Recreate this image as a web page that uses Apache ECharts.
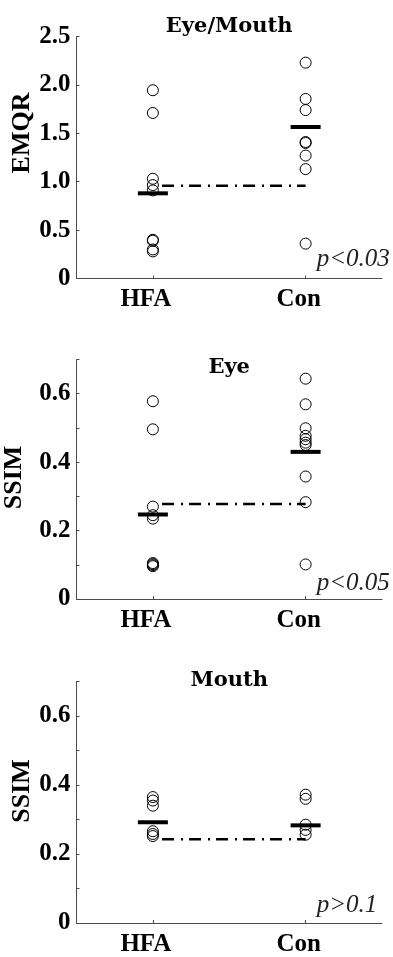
<!DOCTYPE html>
<html>
<head>
<meta charset="utf-8">
<script src="https://cdn.jsdelivr.net/npm/echarts@6/dist/echarts.min.js"></script>
<style>
html,body{margin:0;padding:0;background:#fff;}
#chart{width:393px;height:957px;}
</style>
</head>
<body>
<div id="chart"></div>
<script>
// ---- Data ----
const groups = ['HFA', 'Con'];
const panelTitles = ['Eye/Mouth', 'Eye', 'Mouth'];
const yNames = ['EMQR', 'SSIM', 'SSIM'];
const pTexts = ['p<0.03', 'p<0.05', 'p>0.1'];
const yMax = [2.5, 0.7, 0.7];
const yTickStep = [0.5, 0.1, 0.1];
const yLabelStep = [0.5, 0.2, 0.2];

const emqrHFA = [1.945, 1.71, 1.03, 0.965, 0.91, 0.40, 0.39, 0.30, 0.28];
const emqrCon = [2.23, 1.855, 1.74, 1.41, 1.40, 1.27, 1.13, 0.36];
const emqrMeans = [0.88, 1.565];
const emqrRef = 0.958;

const eyeHFA = [0.578, 0.496, 0.27, 0.245, 0.235, 0.105, 0.102, 0.099, 0.096];
const eyeCon = [0.644, 0.569, 0.499, 0.477, 0.467, 0.457, 0.45, 0.358, 0.283, 0.101];
const eyeMeans = [0.247, 0.430];
const eyeRef = 0.278;

const mouthHFA = [0.365, 0.355, 0.34, 0.266, 0.258, 0.252];
const mouthCon = [0.372, 0.36, 0.285, 0.27, 0.256];
const mouthMeans = [0.292, 0.283];
const mouthRef = 0.243;

const refLineX = [1.06, 2.0];

// ---- Build ----
const panels = [
  {hfa: emqrHFA, con: emqrCon, means: emqrMeans, ref: emqrRef},
  {hfa: eyeHFA, con: eyeCon, means: eyeMeans, ref: eyeRef},
  {hfa: mouthHFA, con: mouthCon, means: mouthMeans, ref: mouthRef}
];
const gridTops = [36.5, 359.5, 681.5];
const gridHeights = [242, 239.5, 242];
const titleY = [27, 367.5, 681];
const yNamePos = [[22.5, 133], [14, 477.5], [22.5, 791]];
const pPos = [259.5, 583.5, 905.5];

const serif = 'Liberation Serif';
const grids = [], xAxes = [], yAxes = [], series = [], graphics = [];

panels.forEach((p, i) => {
  grids.push({left: 76.5, width: 305.5, top: gridTops[i], height: gridHeights[i]});
  xAxes.push({
    type: 'category', gridIndex: i, data: groups, boundaryGap: true,
    axisLine: {show: true, lineStyle: {color: '#4a4a4a', width: 1}},
    axisTick: {show: true, inside: true, alignWithLabel: true, length: 3, lineStyle: {color: '#4a4a4a'}},
    axisLabel: {color: '#000', fontFamily: serif, fontWeight: 'bold', fontSize: 25, margin: 9, padding: [0, 14, 0, 0]},
    splitLine: {show: false}
  });
  xAxes.push({
    type: 'value', gridIndex: i, min: 0.5, max: 2.5, show: false
  });
  const step = yLabelStep[i];
  yAxes.push({
    type: 'value', gridIndex: i, min: 0, max: yMax[i], interval: yTickStep[i],
    axisLine: {show: true, lineStyle: {color: '#4a4a4a', width: 1}},
    axisTick: {show: true, inside: true, length: 3, lineStyle: {color: '#4a4a4a'}},
    splitLine: {show: false},
    axisLabel: {
      color: '#000', fontFamily: serif, fontWeight: 'bold', fontSize: 25, margin: 6,
      formatter: v => {
        const k = Math.round(v / yTickStep[i]);
        const r = Math.round(step / yTickStep[i]);
        if (k % r !== 0) return '';
        if (Math.abs(v) < 1e-9) return '0';
        if (Math.abs(v - yMax[i]) < 1e-9 && i > 0) return '';
        return v.toFixed(1);
      }
    }
  });
  const pts = [];
  p.hfa.forEach(v => pts.push(['HFA', v]));
  p.con.forEach(v => pts.push(['Con', v]));
  series.push({
    type: 'scatter', xAxisIndex: 2 * i, yAxisIndex: i, data: pts,
    symbol: 'circle', symbolSize: 11,
    itemStyle: {color: 'rgba(0,0,0,0)', borderColor: '#000', borderWidth: 1, opacity: 1},
    z: 3, silent: true
  });
  series.push({
    type: 'line', xAxisIndex: 2 * i + 1, yAxisIndex: i,
    data: refLineX.map(x => [x, p.ref]), symbol: 'none',
    lineStyle: {color: '#000', width: 2.5, type: [12, 7, 2, 6], cap: 'butt', opacity: 1},
    z: 2, silent: true
  });
  series.push({
    type: 'scatter', xAxisIndex: 2 * i, yAxisIndex: i,
    data: groups.map((g, j) => [g, p.means[j]]),
    symbol: 'rect', symbolSize: [30, 4],
    itemStyle: {color: '#000', opacity: 1}, z: 4, silent: true
  });
  graphics.push({
    type: 'text', x: 229.2, y: titleY[i],
    style: {text: panelTitles[i], x: 0, y: 0, align: 'center', verticalAlign: 'middle',
      fontFamily: 'DejaVu Serif', fontWeight: 'bold', fontSize: 21, fill: '#000'}
  });
  graphics.push({
    type: 'text', x: yNamePos[i][0], y: yNamePos[i][1], rotation: Math.PI / 2,
    style: {text: yNames[i], x: 0, y: 0, align: 'center', verticalAlign: 'middle',
      fontFamily: serif, fontWeight: 'bold', fontSize: 26, fill: '#000'}
  });
  graphics.push({
    type: 'text', x: 316.7, y: pPos[i],
    style: {text: pTexts[i], x: 0, y: 0, align: 'left', verticalAlign: 'middle',
      fontFamily: serif, fontStyle: 'italic', fontSize: 25, fill: '#222'}
  });
});

const chart = echarts.init(document.getElementById('chart'), null, {renderer: 'canvas'});
chart.setOption({
  animation: false,
  backgroundColor: '#fff',
  grid: grids, xAxis: xAxes, yAxis: yAxes, series: series,
  graphic: graphics
});
</script>
</body>
</html>
